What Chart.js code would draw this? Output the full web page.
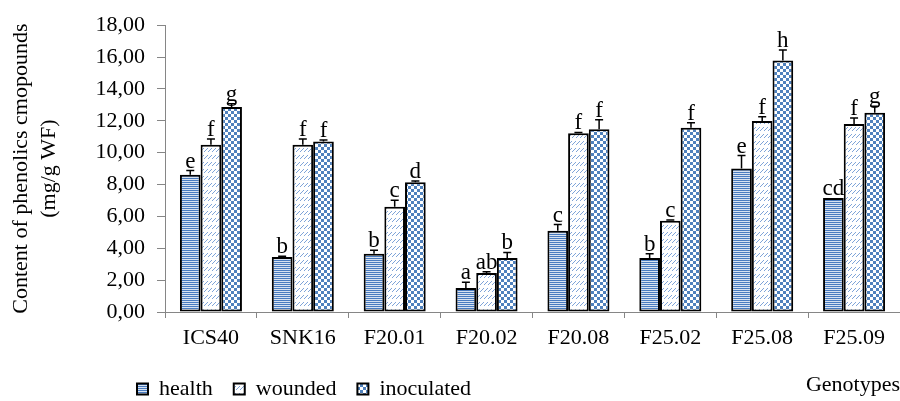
<!DOCTYPE html>
<html lang="en">
<head>
  <meta charset="UTF-8" />
  <title>Phenolics content by genotype</title>
  <style>
    body {
      margin: 0;
      background-color: #fff;
      overflow: hidden;
    }
    canvas {
      display: block;
    }
  </style>
</head>
<body>
  <canvas id="phenolChart" width="900" height="401"></canvas>

  <script src="https://cdn.jsdelivr.net/npm/chart.js"></script>
  <script>
    const genotypes = ['ICS40', 'SNK16', 'F20.01', 'F20.02', 'F20.08', 'F25.02', 'F25.08', 'F25.09'];

    const health = [8.61, 3.45, 3.65, 1.50, 5.10, 3.39, 9.00, 7.15];
    const wounded = [10.50, 10.50, 6.60, 2.45, 11.22, 5.73, 11.98, 11.80];
    const inoculated = [12.87, 10.70, 8.14, 3.39, 11.47, 11.57, 15.78, 12.50];

    // standard errors (only the upper whisker is drawn)
    const healthErr = [0.27, 0.05, 0.22, 0.37, 0.39, 0.27, 0.82, 0];
    const woundedErr = [0.35, 0.35, 0.41, 0.08, 0.05, 0.05, 0.27, 0.37];
    const inoculatedErr = [0.20, 0.10, 0.08, 0.35, 0.60, 0.31, 0.66, 0.41];

    // significance letters
    const healthLetters = ['e', 'b', 'b', 'a', 'c', 'b', 'e', 'cd'];
    const woundedLetters = ['f', 'f', 'c', 'ab', 'f', 'c', 'f', 'f'];
    const inoculatedLetters = ['g', 'f', 'd', 'b', 'f', 'f', 'h', 'g'];

    const yTicks = [0, 2, 4, 6, 8, 10, 12, 14, 16, 18];

    const SERIF = "'Liberation Serif', 'Times New Roman', serif";
    const BLUE = '#4f81bd';

    // fill patterns like the office chart ones
    function makePattern(w, h, paint) {
      const c = document.createElement('canvas');
      c.width = w;
      c.height = h;
      const g = c.getContext('2d');
      paint(g);
      return g.createPattern(c, 'repeat');
    }

    const stripes = makePattern(1, 2, g => {
      g.fillStyle = '#d7e2f1';
      g.fillRect(0, 0, 1, 2);
      g.fillStyle = '#4a7cc0';
      g.fillRect(0, 0, 1, 1);
    });

    const slashes = makePattern(4, 7, g => {
      g.fillStyle = '#fff';
      g.fillRect(0, 0, 4, 7);
      g.fillStyle = '#7fa4d8';
      g.fillRect(3, 1, 1, 1);
      g.fillRect(2, 2, 1, 1);
      g.fillRect(1, 3, 1, 1);
      g.fillRect(0, 4, 1, 1);
    });

    const checker = makePattern(6, 6, g => {
      g.fillStyle = '#fff';
      g.fillRect(0, 0, 6, 6);
      g.fillStyle = BLUE;
      g.fillRect(0, 0, 3, 3);
      g.fillRect(3, 3, 3, 3);
    });

    const errors = [healthErr, woundedErr, inoculatedErr];
    const letters = [healthLetters, woundedLetters, inoculatedLetters];

    // whiskers + letters on top of each bar
    const errorBarPlugin = {
      id: 'errorBars',
      afterDatasetsDraw(chart) {
        const ctx = chart.ctx;
        const yScale = chart.scales.y;
        ctx.save();
        chart.data.datasets.forEach((ds, di) => {
          const meta = chart.getDatasetMeta(di);
          meta.data.forEach((bar, i) => {
            const v = ds.data[i];
            const err = errors[di][i];
            const yTop = yScale.getPixelForValue(v + err);
            if (err > 0) {
              ctx.strokeStyle = '#000';
              ctx.lineWidth = 1.5;
              ctx.beginPath();
              ctx.moveTo(bar.x, bar.y);
              ctx.lineTo(bar.x, yTop);
              ctx.moveTo(bar.x - 4, yTop);
              ctx.lineTo(bar.x + 4, yTop);
              ctx.stroke();
            }
            ctx.fillStyle = '#000';
            ctx.font = '23px ' + SERIF;
            ctx.textAlign = 'center';
            ctx.textBaseline = 'alphabetic';
            ctx.fillText(letters[di][i], bar.x, yTop - 3);
          });
        });
        ctx.restore();
      }
    };

    // put the legend on the bottom row, left of the axis title
    const legendPlacer = {
      id: 'legendPlacer',
      afterLayout(chart) {
        const lg = chart.legend;
        lg.left = 116;
        lg.right = 900;
        lg.top = 357;
      }
    };

    new Chart(document.getElementById('phenolChart'), {
      type: 'bar',
      data: {
        labels: genotypes,
        datasets: [
          { label: 'health', data: health, backgroundColor: stripes },
          { label: 'wounded', data: wounded, backgroundColor: slashes },
          { label: 'inoculated', data: inoculated, backgroundColor: checker }
        ]
      },
      options: {
        responsive: false,
        animation: false,
        devicePixelRatio: 1,
        layout: { padding: { top: 20, right: 0, bottom: 0, left: 0 } },
        datasets: {
          bar: {
            borderColor: '#000',
            borderWidth: 2,
            borderSkipped: false,
            categoryPercentage: 0.675,
            barPercentage: 1
          }
        },
        plugins: {
          tooltip: { enabled: false },
          legend: {
            position: 'bottom',
            align: 'start',
            maxHeight: 1,
            labels: {
              boxWidth: 11,
              boxHeight: 11,
              padding: 21,
              color: '#000',
              font: { family: SERIF, size: 22 }
            }
          }
        },
        scales: {
          x: {
            grid: {
              offset: true,
              drawOnChartArea: false,
              tickLength: 6,
              color: '#868686'
            },
            border: { color: '#868686', width: 1 },
            ticks: {
              color: '#000',
              padding: 7,
              font: { family: SERIF, size: 22 }
            },
            title: {
              display: true,
              text: 'Genotypes',
              align: 'end',
              color: '#000',
              padding: { top: 0, bottom: 2 },
              font: { family: SERIF, size: 22 }
            },
            afterFit(scale) {
              scale.height = 88;
            }
          },
          y: {
            min: 0,
            max: 18,
            afterBuildTicks(scale) {
              scale.ticks = yTicks.map(v => ({ value: v }));
            },
            grid: {
              drawOnChartArea: false,
              tickLength: 8,
              color: '#868686'
            },
            border: { color: '#868686', width: 1 },
            ticks: {
              color: '#000',
              padding: 12,
              font: { family: SERIF, size: 22 },
              callback: v => v.toFixed(2).replace('.', ',')
            },
            title: {
              display: true,
              text: ['Content of phenolics cmopounds', '(mg/g WF)'],
              color: '#000',
              padding: { top: 7, bottom: 0 },
              font: { family: SERIF, size: 22, lineHeight: 1.27 }
            },
            afterFit(scale) {
              scale.width = 165;
            }
          }
        }
      },
      plugins: [errorBarPlugin, legendPlacer]
    });
  </script>
</body>
</html>
